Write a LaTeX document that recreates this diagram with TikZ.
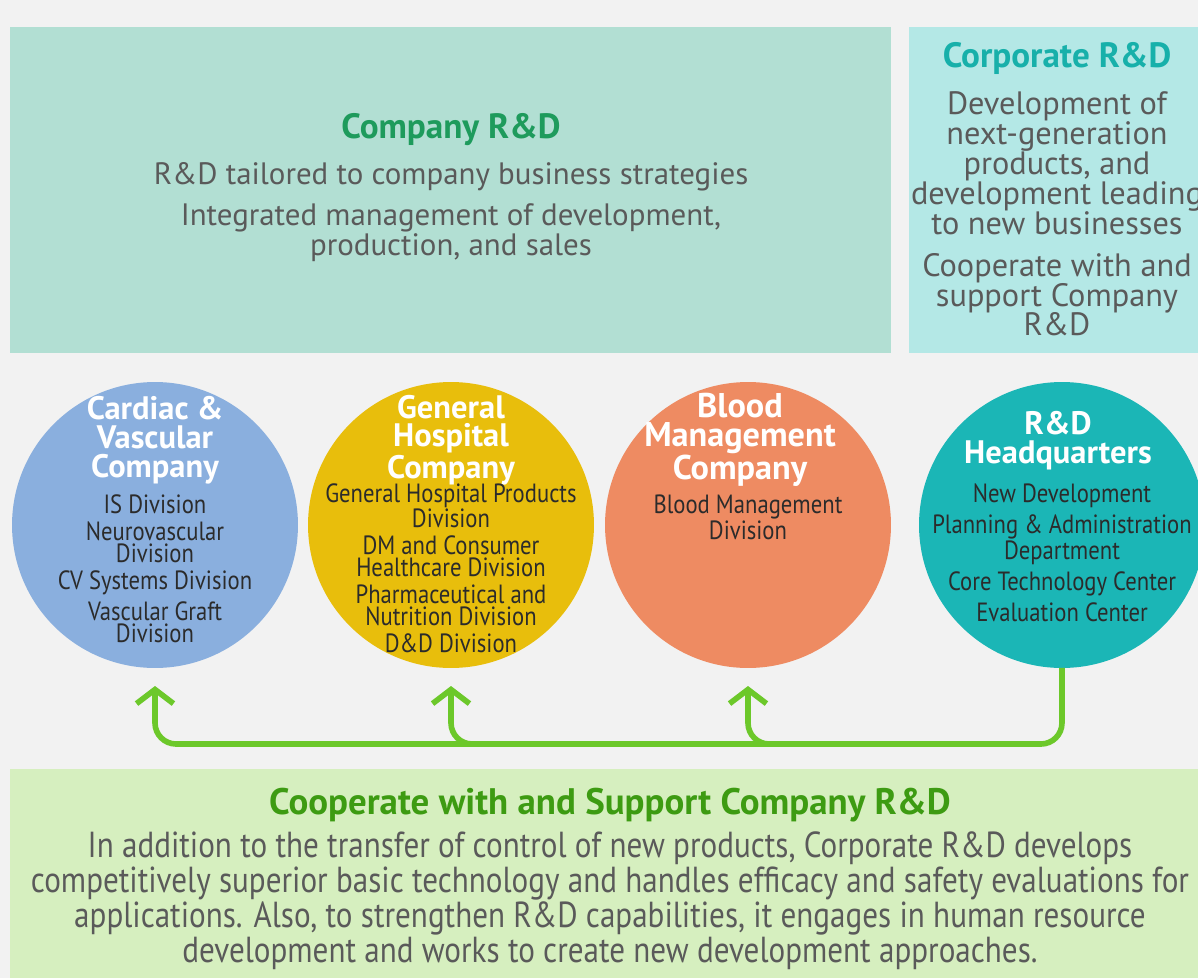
\documentclass[tikz,border=0pt]{standalone}
\usepackage{fontspec}
\setmainfont{PT Sans}
\newfontfamily\narrowfont{PT Sans}[FakeStretch=0.86]
\usetikzlibrary{arrows.meta,positioning}

\definecolor{pagegray}{HTML}{F2F2F2}
\definecolor{companyfill}{HTML}{B2DFD3}
\definecolor{corporatefill}{HTML}{B4E8E6}
\definecolor{supportfill}{HTML}{D6EFBF}
\definecolor{companygreen}{HTML}{1E9B5C}
\definecolor{corporateteal}{HTML}{17B0AA}
\definecolor{supportgreen}{HTML}{3D9B12}
\definecolor{bodygray}{HTML}{5A5A5A}
\definecolor{itemdark}{HTML}{2B2B2B}
\definecolor{linkgreen}{HTML}{6CC82A}
\definecolor{cardiacblue}{HTML}{8AAFDE}
\definecolor{hospitalyellow}{HTML}{E8BE0C}
\definecolor{bloodorange}{HTML}{EE8B62}
\definecolor{hqteal}{HTML}{1BB6B6}

\begin{document}
\begin{tikzpicture}[x=0.02cm, y=-0.02cm, >=Straight Barb,
  every node/.style={inner sep=0pt, outer sep=0pt},
  unit/.style={circle, minimum size=5.72cm},
  unittitle/.style={font=\bfseries\fontsize{18.5}{16.4}\selectfont, text=white, align=center},
  unitbody/.style={font=\narrowfont\fontsize{15}{12.4}\selectfont, text=itemdark, align=center},
  boxtitle/.style={font=\bfseries\fontsize{20}{20}\selectfont, align=center},
  boxbody/.style={font=\fontsize{17.6}{17}\selectfont, text=bodygray, align=center},
  link/.style={draw=linkgreen, line width=3.2pt, rounded corners=12pt,
    -{Straight Barb[length=8pt,width=21pt,line width=3.2pt]}}]
  % Page and boxes
  \fill[pagegray] (0,0) rectangle (1198,978);
  \useasboundingbox (0,0) rectangle (1198,978);
  \fill[companyfill] (10,27) rectangle (891,353);
  \fill[corporatefill] (909,27) rectangle (1198,353);
  \fill[supportfill] (10,769) rectangle (1198,978);
  % Company R&D
  \node[boxtitle, text=companygreen] (comptitle) at (451,130) {Company R\&D};
  \node[boxbody] (compbody) at (451,212) {R\&D tailored to company business strategies\\[6pt]
    Integrated management of development,\\ production, and sales};
  % Corporate R&D
  \node[boxtitle, text=corporateteal] (corptitle) at (1057,58) {Corporate R\&D};
  \node[boxbody, font=\fontsize{18.4}{17}\selectfont] (corpbody) at (1057,214) {Development of\\ next-generation\\ products, and\\
    development leading\\ to new businesses\\[7pt] Cooperate with and\\ support Company\\ R\&D};
  % Companies
  \node[unit, fill=cardiacblue] (cardiac) at (155,525) {};
  \node[unit, fill=hospitalyellow] (hospital) at (451,525) {};
  \node[unit, fill=bloodorange] (blood) at (748,525) {};
  \node[unit, fill=hqteal] (hq) at (1062,525) {};
  \node[unittitle] (cardiactitle) at (155,440) {Cardiac \&\\ Vascular\\ Company};
  \node[unitbody] (cardiacbody) at (155,569) {IS Division\\[3pt] Neurovascular\\ Division\\[3pt]
    CV Systems Division\\[3pt] Vascular Graft\\ Division};
  \node[unittitle] (hospitaltitle) at (451,440) {General\\ Hospital\\ Company};
  \node[unitbody] (hospitalbody) at (451,568) {General Hospital Products\\ Division\\[3pt]
    DM and Consumer\\ Healthcare Division\\[3pt] Pharmaceutical and\\ Nutrition Division\\[3pt] D\&D Division};
  \node[unittitle, font=\bfseries\fontsize{19.5}{16.4}\selectfont] (bloodtitle) at (740,440) {Blood\\ Management\\ Company};
  \node[unitbody] (bloodbody) at (748,517) {Blood Management\\ Division};
  \node[unittitle] (hqtitle) at (1058,441) {R\&D\\ Headquarters};
  \node[unitbody] (hqbody) at (1062,553) {New Development\\[3pt] Planning \& Administration\\ Department\\[3pt]
    Core Technology Center\\[3pt] Evaluation Center};
  % Support links
  \coordinate (tipA) at (155,686);
  \coordinate (tipB) at (451,686);
  \coordinate (tipC) at (748,686);
  \coordinate (bus) at (0,744);
  \draw[link] (hq.south) |- (tipA |- bus) -- (tipA);
  \draw[link] ([xshift=40]tipB |- bus) -| (tipB);
  \draw[link] ([xshift=40]tipC |- bus) -| (tipC);
  % Cooperate with and support
  \node[boxtitle, font=\bfseries\fontsize{21}{20}\selectfont, text=supportgreen] (supporttitle) at (610,805) {Cooperate with and Support Company R\&D};
  \node[boxbody, font=\narrowfont\fontsize{20.6}{17.3}\selectfont] (supportbody) at (610,901) {In addition to the transfer of control of new products, Corporate R\&D develops\\
    competitively superior basic technology and handles efficacy and safety evaluations for\\
    applications. Also, to strengthen R\&D capabilities, it engages in human resource\\
    development and works to create new development approaches.};
\end{tikzpicture}
\end{document}
